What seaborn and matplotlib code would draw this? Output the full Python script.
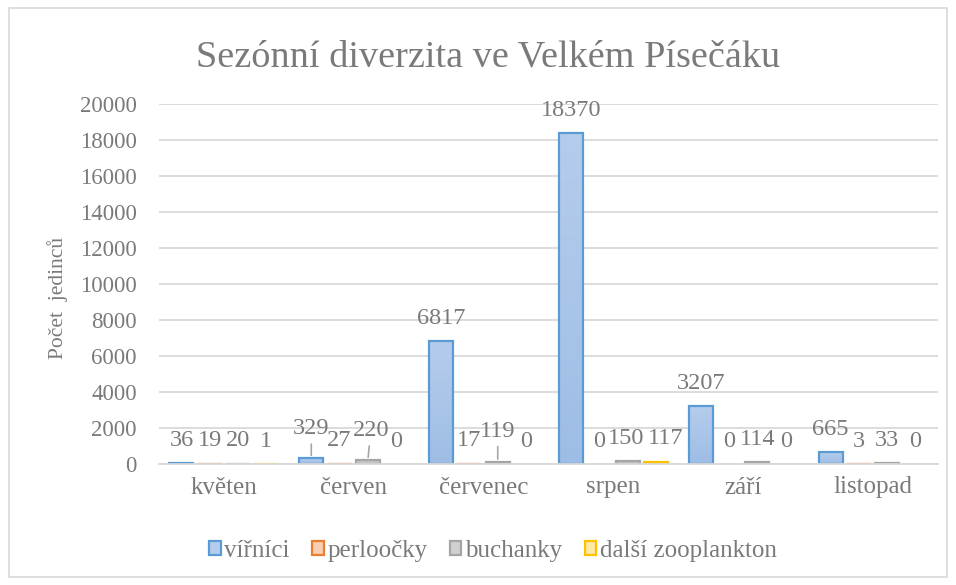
import numpy as np
import pandas as pd
import matplotlib
matplotlib.use("Agg")
import matplotlib.pyplot as plt
from matplotlib.patches import Patch, Rectangle
import seaborn as sns

# ── Data ─────────────────────────────────────────────────────
months = ["květen", "červen", "červenec", "srpen", "září", "listopad"]
groups = ["vířníci", "perloočky", "buchanky", "další zooplankton"]

virnici   = [36, 329, 6817, 18370, 3207, 665]
perloocky = [19, 27, 17, 0, 0, 3]
buchanky  = [20, 220, 119, 150, 114, 33]
dalsi     = [1, 0, 0, 117, 0, 0]

yticks = [0, 2000, 4000, 6000, 8000, 10000, 12000, 14000, 16000, 18000, 20000]

df = pd.DataFrame({
    "měsíc":   months * 4,
    "skupina": np.repeat(groups, len(months)),
    "počet":   virnici + perloocky + buchanky + dalsi,
})

# ── Style ────────────────────────────────────────────────────
fills_top = ["#b5cdec", "#f9cfb3", "#d0d0d0", "#ffe9a6"]
fills_bot = ["#9ebde5", "#f4b890", "#bdbdbd", "#ffdf80"]
edges     = ["#5b9bd5", "#ed7d31", "#a5a5a5", "#ffc000"]
text_col  = "#7a7a7a"
grid_col  = "#d9d9d9"

sns.set_theme(style="white")
plt.rcParams["font.family"] = ["Liberation Serif", "DejaVu Serif"]

fig = plt.figure(figsize=(9.56, 5.85), dpi=100)
ax = fig.add_axes([159 / 956, 1 - 464 / 585, (938 - 159) / 956, (464 - 104) / 585])

sns.barplot(data=df, x="měsíc", y="počet", hue="skupina", hue_order=groups,
            palette=fills_top, width=0.872, gap=0.15, ax=ax, legend=False,
            errorbar=None, saturation=1)

ax.set_ylim(0, 20000)
ax.set_yticks(yticks)
ax.set_yticklabels([str(t) for t in yticks])
ax.yaxis.grid(True, color=grid_col, linewidth=1.3)
ax.set_axisbelow(True)
for side in ["top", "right", "left"]:
    ax.spines[side].set_visible(False)
ax.spines["bottom"].set_color(grid_col)
ax.spines["bottom"].set_linewidth(1.3)
ax.tick_params(axis="y", length=0, pad=16, labelsize=16.5, labelcolor=text_col)
ax.tick_params(axis="x", length=0, pad=9, labelsize=18, labelcolor=text_col)
ax.set_xlabel("")
ax.set_ylabel("")

# gradient fill + edge colour for each bar
xlim = ax.get_xlim()
for i, cont in enumerate(ax.containers):
    cmap = matplotlib.colors.LinearSegmentedColormap.from_list(
        f"g{i}", [fills_bot[i], fills_top[i]])
    for p in cont.patches:
        h = p.get_height()
        if h <= 0:
            p.set_linewidth(0)
            p.set_facecolor("none")
            continue
        p.set_edgecolor(edges[i])
        p.set_linewidth(1.6)
        x0 = p.get_x()
        w = p.get_width()
        grad = np.linspace(0, 1, 64).reshape(-1, 1)
        im = ax.imshow(grad, cmap=cmap, origin="lower", aspect="auto",
                       extent=[x0, x0 + w, 0, h], zorder=p.get_zorder() - 0.05)
        im.set_clip_path(p)
        p.set_facecolor("none")
ax.set_xlim(xlim)
ax.set_ylim(0, 20000)

# data labels (Excel moved some labels and drew leader lines)
series = [virnici, perloocky, buchanky, dalsi]
moved = {(1, 0): (0, 21), (1, 2): (2, 21), (2, 2): (0, 22)}
nudged = {(3, 2): -1, (3, 3): 7}
lab_size = 17.5
for i, cont in enumerate(ax.containers):
    for j, p in enumerate(cont.patches):
        xc = p.get_x() + p.get_width() / 2
        val = series[i][j]
        if (j, i) in moved:
            dx, dy = moved[(j, i)]
            ax.annotate(str(val), xy=(xc, val), xytext=(dx, dy),
                        textcoords="offset points", ha="center", va="center",
                        fontsize=lab_size, color=text_col, annotation_clip=False,
                        arrowprops=dict(arrowstyle="-", color="#a6a6a6",
                                        lw=1.2, shrinkA=1, shrinkB=2))
        else:
            ax.annotate(str(val), xy=(xc, val),
                        xytext=(nudged.get((j, i), 0), 16.5),
                        textcoords="offset points", ha="center", va="center",
                        fontsize=lab_size, color=text_col, annotation_clip=False)

# title, y label, legend, chart border
fig.text(488 / 956, 1 - 57 / 585, "Sezónní diverzita ve Velkém Písečáku",
         ha="center", va="center", fontsize=27.5, color=text_col)
fig.text(58 / 956, 1 - 298 / 585, "Počet  jedinců", rotation=90,
         ha="center", va="center", fontsize=15.5, color=text_col)

handles = [Patch(facecolor=fills_top[i], edgecolor=edges[i], linewidth=1.6)
           for i in range(len(groups))]
leg = fig.legend(handles, groups, loc="center", ncol=4,
                 bbox_to_anchor=(493 / 956, 1 - 551 / 585), frameon=False,
                 fontsize=18, handlelength=0.45, handleheight=0.45,
                 handletextpad=0.15, columnspacing=0.9)
for t in leg.get_texts():
    t.set_color(text_col)

fig.patches.append(Rectangle((9 / 956, 8 / 585), 938 / 956, 569 / 585,
                             transform=fig.transFigure, fill=False,
                             edgecolor=grid_col, linewidth=1.2))

plt.savefig("out.png", dpi=100)
plt.close()
